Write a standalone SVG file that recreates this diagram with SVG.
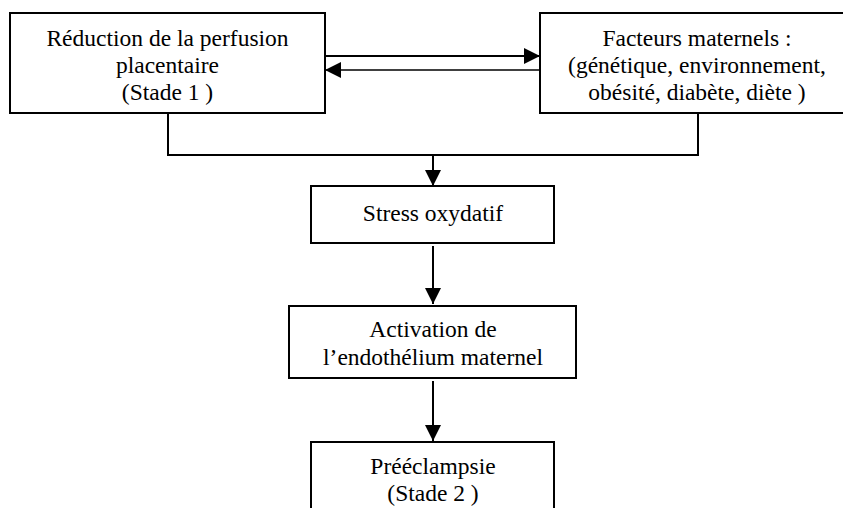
<svg xmlns="http://www.w3.org/2000/svg" width="843" height="508" viewBox="0 0 843 508">
<defs>
<style>
.box{fill:#fff;stroke:#000;stroke-width:2}
.t{font-family:"Liberation Serif","Times New Roman",serif;font-size:23.5px;fill:#000;text-anchor:middle}
.ln{fill:none;stroke:#000;stroke-width:2}
.thin{fill:none;stroke:#000;stroke-width:1.5}
</style>
<marker id="ah" viewBox="0 0 16 16" refX="16" refY="8" markerWidth="16" markerHeight="16" markerUnits="userSpaceOnUse" orient="auto">
<path d="M0,0 L16,8 L0,16 Z" fill="#000"/>
</marker>
</defs>
<rect width="843" height="508" fill="#fff"/>
<g id="connectors">
<line class="ln" x1="325" y1="56" x2="540" y2="56" marker-end="url(#ah)"/>
<line class="thin" x1="540" y1="70" x2="325" y2="70" marker-end="url(#ah)"/>
<polyline class="ln" points="168,113 168,155 698,155 698,113"/>
<line class="ln" x1="433" y1="155" x2="433" y2="186" marker-end="url(#ah)"/>
<line class="ln" x1="433" y1="246" x2="433" y2="304" marker-end="url(#ah)"/>
<line class="ln" x1="433" y1="381" x2="433" y2="441" marker-end="url(#ah)"/>
</g>
<g id="n1">
<rect class="box" x="10" y="13" width="315" height="100"/>
<text class="t" x="167.5" y="46">Réduction de la perfusion</text>
<text class="t" x="167.5" y="73">placentaire</text>
<text class="t" x="167.5" y="100">(Stade 1 )</text>
</g>
<g id="n2">
<rect class="box" x="540" y="13" width="314" height="100"/>
<text class="t" x="697" y="46">Facteurs maternels :</text>
<text class="t" x="697" y="73">(génétique, environnement,</text>
<text class="t" x="697" y="100">obésité, diabète, diète )</text>
</g>
<g id="n3">
<rect class="box" x="311" y="186" width="243" height="57"/>
<text class="t" x="433" y="221">Stress oxydatif</text>
</g>
<g id="n4">
<rect class="box" x="289" y="306" width="287" height="72"/>
<text class="t" x="433" y="337">Activation de</text>
<text class="t" x="433" y="365">l’endothélium maternel</text>
</g>
<g id="n5">
<rect class="box" x="311" y="442" width="243" height="80"/>
<text class="t" x="433" y="474">Prééclampsie</text>
<text class="t" x="433" y="501">(Stade 2 )</text>
</g>
</svg>
